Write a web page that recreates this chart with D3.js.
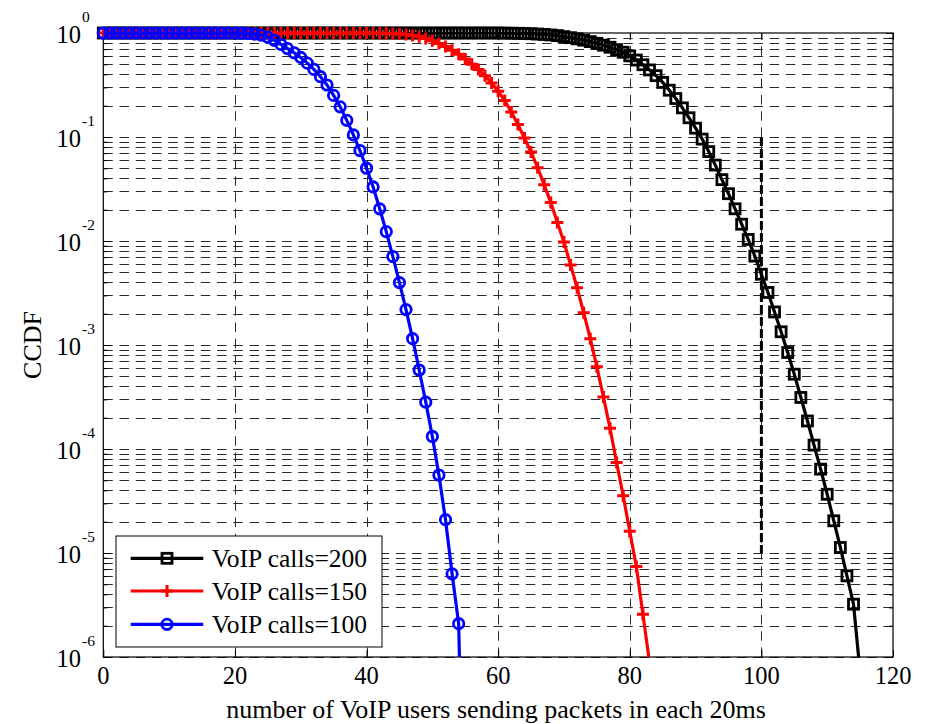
<!DOCTYPE html>
<html>
<head>
<meta charset="utf-8">
<script src="https://cdn.jsdelivr.net/npm/d3@7"></script>
<style>
  body { margin: 0; background: #fff; }
  text { font-family: "Liberation Serif", "Times New Roman", serif; fill: #000; }
</style>
</head>
<body>
<svg id="chart" width="930" height="724"></svg>
<script>
// CCDF of the number of VoIP users sending a packet in a 20 ms slot,
// one value per user count (index = number of users).
const ccdf200 = [
  1, 1, 1, 1, 1, 1, 1, 1, 1, 1,
  1, 1, 1, 1, 1, 1, 1, 1, 1, 1,
  1, 1, 1, 1, 1, 1, 1, 1, 1, 1,
  1, 1, 1, 1, 1, 1, 1, 1, 1, 1,
  1, 1, 1, 1, 1, 1, 1, 1, 1, 1,
  1, 1, 1, 1, 1, 1, 1, 1, 1, 1,
  1, 0.9977, 0.9954, 0.9931, 0.9886, 0.984, 0.9772, 0.9683, 0.9572, 0.9441,
  0.9226, 0.9016, 0.879, 0.8531, 0.826, 0.7962, 0.7638, 0.7295, 0.6918, 0.6531,
  0.6026, 0.5495, 0.4955, 0.4416, 0.389, 0.335, 0.2818, 0.2344, 0.1905, 0.1531,
  0.1216, 0.0955, 0.0724, 0.0537, 0.0389, 0.0285, 0.0204, 0.0145, 0.01035, 0.00716,
  4.79e-3, 3.2e-3, 2.08e-3, 1.34e-3, 8.47e-4, 5.24e-4, 3.13e-4, 1.86e-4, 1.09e-4, 6.4e-5,
  3.67e-5, 2.04e-5, 1.13e-5, 6.03e-6, 3.22e-6, 7.1e-7
];

const ccdf150 = [
  1, 1, 1, 1, 1, 1, 1, 1, 1, 1,
  1, 1, 1, 1, 1, 1, 1, 1, 1, 1,
  1, 1, 1, 1, 1, 1, 1, 1, 1, 1,
  1, 1, 1, 1, 1, 1, 1, 1, 1, 1,
  0.9989, 0.9977, 0.9954, 0.9931, 0.9886, 0.9795, 0.966, 0.9462, 0.9183, 0.8831,
  0.8414, 0.7943, 0.7413, 0.6839, 0.6237, 0.5623, 0.5012, 0.4467, 0.389, 0.3311,
  0.2754, 0.2239, 0.1738, 0.1318, 0.0977, 0.0716, 0.0507, 0.0347, 0.0234, 0.0151,
  9.77e-3, 5.89e-3, 3.55e-3, 2.04e-3, 1.15e-3, 6.17e-4, 3.16e-4, 1.58e-4, 7.41e-5, 3.55e-5,
  1.62e-5, 7.41e-6, 2.57e-6, 8.9e-7
];

const ccdf100 = [
  1, 1, 1, 1, 1, 1, 1, 1, 1, 1,
  1, 1, 1, 1, 1, 1, 1, 1, 1, 1,
  0.9977, 0.9954, 0.9886, 0.9772, 0.955, 0.912, 0.8511, 0.7762, 0.7079, 0.6457,
  0.5821, 0.5129, 0.4467, 0.3802, 0.3162, 0.2512, 0.195, 0.1445, 0.1047, 0.0741,
  0.0501, 0.0331, 0.0204, 0.0123, 7.08e-3, 3.98e-3, 2.19e-3, 1.15e-3, 5.75e-4, 2.82e-4,
  1.32e-4, 5.62e-5, 2.09e-5, 6.31e-6, 2.09e-6, 3.2e-9
];

const seriesLabels = ["VoIP calls=200", "VoIP calls=150", "VoIP calls=100"];
const seriesColors = ["#000000", "#ff0000", "#0000ff"];
const seriesMarkers = ["square", "plus", "circle"];
const xTickValues = [0, 20, 40, 60, 80, 100, 120];
const yDecades = [0, -1, -2, -3, -4, -5, -6];
const xTitle = "number of VoIP users sending packets in each 20ms";
const yTitle = "CCDF";
// Reference marker: 100 users, spanning CCDF 1e-1 .. 1e-5
const refUsers = 100;
const refRange = [1e-1, 1e-5];

const series = [ccdf200, ccdf150, ccdf100].map((vals, k) => ({
  label: seriesLabels[k],
  color: seriesColors[k],
  marker: seriesMarkers[k],
  points: vals.map((v, i) => ({ n: i, p: v }))
}));

const svg = d3.select("#chart");
const L = 103.3, R = 893, T = 33, B = 657;

const x = d3.scaleLinear().domain([0, 120]).range([L, R]);
const y = d3.scaleLog().domain([1e-6, 1]).range([B, T]);

// minor + major decade positions
const gridY = [];
for (let e = -6; e < 0; e++) for (let m = 1; m <= 9; m++) gridY.push(m * Math.pow(10, e));
const minorY = gridY.filter(v => Math.abs(Math.log10(v) - Math.round(Math.log10(v))) > 1e-9);
const majorY = yDecades.map(e => Math.pow(10, e));

const grid = svg.append("g").attr("stroke", "#2a2a2a").attr("stroke-width", 1)
  .attr("stroke-dasharray", "9.5,6.75").attr("fill", "none");
grid.selectAll("line.h").data(gridY).join("line")
  .attr("x1", L).attr("x2", R)
  .attr("y1", d => Math.round(y(d)) + 0.5).attr("y2", d => Math.round(y(d)) + 0.5);
grid.selectAll("line.v").data(xTickValues.filter(v => v > 0 && v < 120)).join("line")
  .attr("x1", d => Math.round(x(d)) + 0.5).attr("x2", d => Math.round(x(d)) + 0.5)
  .attr("y1", B).attr("y2", T);

// thick dashed reference line
svg.append("line")
  .attr("x1", x(refUsers)).attr("x2", x(refUsers))
  .attr("y1", y(refRange[0])).attr("y2", y(refRange[1]))
  .attr("stroke", "#000").attr("stroke-width", 3).attr("stroke-dasharray", "9,3");

// axes box and inward ticks
const ax = svg.append("g");
ax.append("g").attr("transform", `translate(0,${B})`)
  .call(d3.axisBottom(x).tickValues(xTickValues).tickSizeInner(-7).tickSizeOuter(0).tickFormat(""))
  .call(g => g.select(".domain").remove());
ax.append("g").attr("transform", `translate(0,${T})`)
  .call(d3.axisTop(x).tickValues(xTickValues).tickSizeInner(-7).tickSizeOuter(0).tickFormat(""))
  .call(g => g.select(".domain").remove());
ax.append("g").attr("transform", `translate(${L},0)`)
  .call(d3.axisLeft(y).tickValues(majorY).tickSizeInner(-7).tickSizeOuter(0).tickFormat(""))
  .call(g => g.select(".domain").remove());
ax.append("g").attr("transform", `translate(${L},0)`)
  .call(d3.axisLeft(y).tickValues(minorY).tickSizeInner(-4).tickSizeOuter(0).tickFormat(""))
  .call(g => g.select(".domain").remove());
ax.append("g").attr("transform", `translate(${R},0)`)
  .call(d3.axisRight(y).tickValues(majorY).tickSizeInner(-7).tickSizeOuter(0).tickFormat(""))
  .call(g => g.select(".domain").remove());
ax.append("g").attr("transform", `translate(${R},0)`)
  .call(d3.axisRight(y).tickValues(minorY).tickSizeInner(-4).tickSizeOuter(0).tickFormat(""))
  .call(g => g.select(".domain").remove());
ax.selectAll(".tick line").attr("stroke", "#000").attr("stroke-width", 1);

svg.append("rect").attr("x", L).attr("y", T).attr("width", R - L).attr("height", B - T)
  .attr("fill", "none").attr("stroke", "#000").attr("stroke-width", 1.2);

// tick labels
svg.append("g").selectAll("text").data(xTickValues).join("text")
  .attr("x", d => x(d)).attr("y", 683.5).attr("text-anchor", "middle")
  .attr("font-size", 24.5).text(d => d);

const yl = svg.append("g").selectAll("g").data(yDecades).join("g");
yl.append("text").attr("x", 81).attr("y", d => y(Math.pow(10, d)) + 9.7)
  .attr("text-anchor", "end").attr("font-size", 24.5).text("10");
yl.append("text").attr("x", 82).attr("y", d => y(Math.pow(10, d)) - 11.5)
  .attr("font-size", 15.5).text(d => d);

// axis titles
svg.append("text").attr("x", (L + R) / 2 - 2).attr("y", 718).attr("text-anchor", "middle")
  .attr("font-size", 26).text(xTitle);
svg.append("text").attr("transform", `translate(41,${(T + B) / 2}) rotate(-90)`)
  .attr("text-anchor", "middle").attr("font-size", 26).text(yTitle);

// curves
svg.append("clipPath").attr("id", "plotClip").append("rect")
  .attr("x", L).attr("y", T - 1).attr("width", R - L).attr("height", B - T + 1);

const line = d3.line().x(d => x(d.n)).y(d => y(d.p));

function drawMarker(sel, type, color) {
  if (type === "square") {
    sel.append("rect").attr("x", -5).attr("y", -5).attr("width", 10).attr("height", 10)
      .attr("fill", "none").attr("stroke", color).attr("stroke-width", 2.8);
  } else if (type === "plus") {
    sel.append("path").attr("d", "M-6,0H6M0,-6V6")
      .attr("fill", "none").attr("stroke", color).attr("stroke-width", 3);
  } else {
    sel.append("circle").attr("r", 5.2)
      .attr("fill", "none").attr("stroke", color).attr("stroke-width", 2.8);
  }
}

series.forEach(s => {
  const g = svg.append("g");
  g.append("path").datum(s.points).attr("d", line)
    .attr("clip-path", "url(#plotClip)")
    .attr("fill", "none").attr("stroke", s.color).attr("stroke-width", 3.2)
    .attr("stroke-linejoin", "round");
  g.selectAll("g.m").data(s.points.filter(d => d.p >= 1e-6)).join("g")
    .attr("transform", d => `translate(${x(d.n)},${y(d.p)})`)
    .each(function () { drawMarker(d3.select(this), s.marker, s.color); });
});

// legend
const lg = svg.append("g");
lg.append("rect").attr("x", 116).attr("y", 536).attr("width", 266).attr("height", 111)
  .attr("fill", "#fff").attr("stroke", "#000").attr("stroke-width", 1);
const rowY = [558.3, 591, 624.3];
series.forEach((s, k) => {
  const r = lg.append("g").attr("transform", `translate(0,${rowY[k]})`);
  r.append("line").attr("x1", 130.7).attr("x2", 203.3).attr("y1", 0).attr("y2", 0)
    .attr("stroke", s.color).attr("stroke-width", 3.2);
  drawMarker(r.append("g").attr("transform", "translate(167,0)"), s.marker, s.color);
  r.append("text").attr("x", 211.7).attr("y", 8.5).attr("font-size", 25.5).text(s.label);
});
</script>
</body>
</html>
